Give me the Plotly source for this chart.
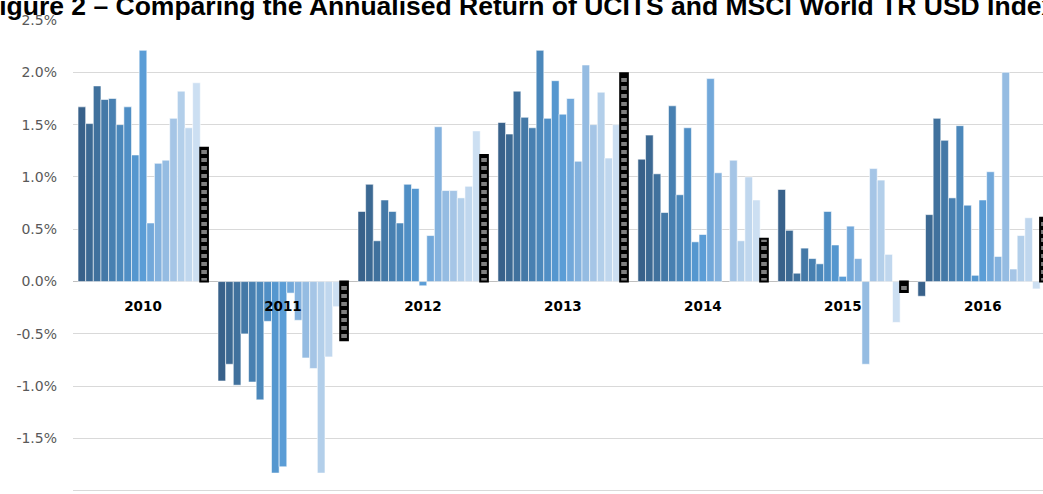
import plotly.graph_objects as go

years = ["2010", "2011", "2012", "2013", "2014", "2015", "2016"]

returns_2010 = [1.67, 1.51, 1.87, 1.74, 1.75, 1.50, 1.67, 1.21, 2.21, 0.56, 1.13, 1.16, 1.56, 1.82, 1.47, 1.90]
returns_2011 = [-0.95, -0.79, -0.99, -0.50, -0.96, -1.13, -0.38, -1.83, -1.77, -0.11, -0.37, -0.73, -0.83, -1.83, -0.72, -0.24]
returns_2012 = [0.67, 0.93, 0.39, 0.78, 0.67, 0.56, 0.93, 0.89, -0.04, 0.44, 1.48, 0.87, 0.87, 0.80, 0.91, 1.44]
returns_2013 = [1.52, 1.41, 1.82, 1.57, 1.47, 2.21, 1.56, 1.92, 1.60, 1.75, 1.15, 2.07, 1.50, 1.81, 1.18, 1.50]
returns_2014 = [1.17, 1.40, 1.03, 0.66, 1.68, 0.83, 1.47, 0.38, 0.45, 1.94, 1.04, None, 1.16, 0.39, 1.00, 0.78]
returns_2015 = [0.88, 0.49, 0.08, 0.32, 0.22, 0.17, 0.67, 0.35, 0.05, 0.53, 0.22, -0.79, 1.08, 0.97, 0.26, -0.39]
returns_2016 = [-0.14, 0.64, 1.56, 1.35, 0.80, 1.49, 0.73, 0.06, 0.78, 1.05, 0.24, 2.00, 0.12, 0.44, 0.61, -0.07]

msci_world = [1.28, -0.56, 1.21, 1.99, 0.41, -0.10, 0.61]

y_tick_vals = [2.5, 2.0, 1.5, 1.0, 0.5, 0.0, -0.5, -1.0, -1.5, -2.0]
y_tick_text = ["2.5%", "2.0%", "1.5%", "1.0%", "0.5%", "0.0%", "-0.5%", "-1.0%", "-1.5%", "-2.0%"]

fund_colors = ["#38618a", "#3c6993", "#40719d", "#4479a7", "#4880b1", "#4c88bb",
               "#508fc5", "#5597cf", "#5b9dd6", "#72a8da", "#84b2de", "#95bce2",
               "#a5c5e6", "#b3cfea", "#c0d7ee", "#ccdff2"]

yearly = [returns_2010, returns_2011, returns_2012, returns_2013,
          returns_2014, returns_2015, returns_2016]

y_min, y_max = -2.03, 2.5

fig = go.Figure()
for i, col in enumerate(fund_colors):
    fig.add_trace(go.Bar(
        x=years,
        y=[yr[i] for yr in yearly],
        name=f"UCITS {i + 1}",
        marker=dict(color=col, line=dict(color="rgba(255,255,255,0.8)", width=0.7)),
        showlegend=False,
    ))

fig.add_trace(go.Bar(
    x=years,
    y=msci_world,
    name="MSCI World TR USD Index",
    marker=dict(
        color="black",
        line=dict(color="black", width=2),
        pattern=dict(shape="-", fgcolor="white", bgcolor="black", size=8, solidity=0.5),
    ),
    showlegend=False,
))

fig.add_annotation(
    text="<b>Figure 2 – Comparing the Annualised Return of UCITS and MSCI World TR USD Index</b>",
    xref="paper", yref="paper", x=(520 - 73) / 970, y=1, xanchor="center", yanchor="bottom",
    yshift=-3, showarrow=False,
    font=dict(family="Liberation Sans, Arial", size=26.5, color="black"),
)

fig.update_layout(
    width=1043, height=494,
    margin=dict(l=73, r=0, t=20, b=0),
    paper_bgcolor="white", plot_bgcolor="white",
    barmode="group", bargap=0.072, bargroupgap=0,
    xaxis=dict(
        type="category", range=[-0.5, 6.43], automargin=False,
        anchor="free", position=-y_min / (y_max - y_min),
        showgrid=False, showline=False, zeroline=False,
        ticks="", ticklabelstandoff=15,
        tickfont=dict(family="DejaVu Sans", size=13.5, color="black", weight="bold"),
    ),
    yaxis=dict(
        range=[y_min, y_max], tickvals=y_tick_vals, ticktext=y_tick_text, automargin=False,
        showgrid=True, gridcolor="#d9d9d9", gridwidth=1,
        zeroline=True, zerolinecolor="#bfbfbf", zerolinewidth=1,
        showline=False, ticks="", ticklabelstandoff=15,
        tickfont=dict(family="DejaVu Sans", size=14, color="#595959"),
    ),
)

fig.write_html("out.html", config={"displayModeBar": False},
               post_script="document.body.style.margin='0';")
